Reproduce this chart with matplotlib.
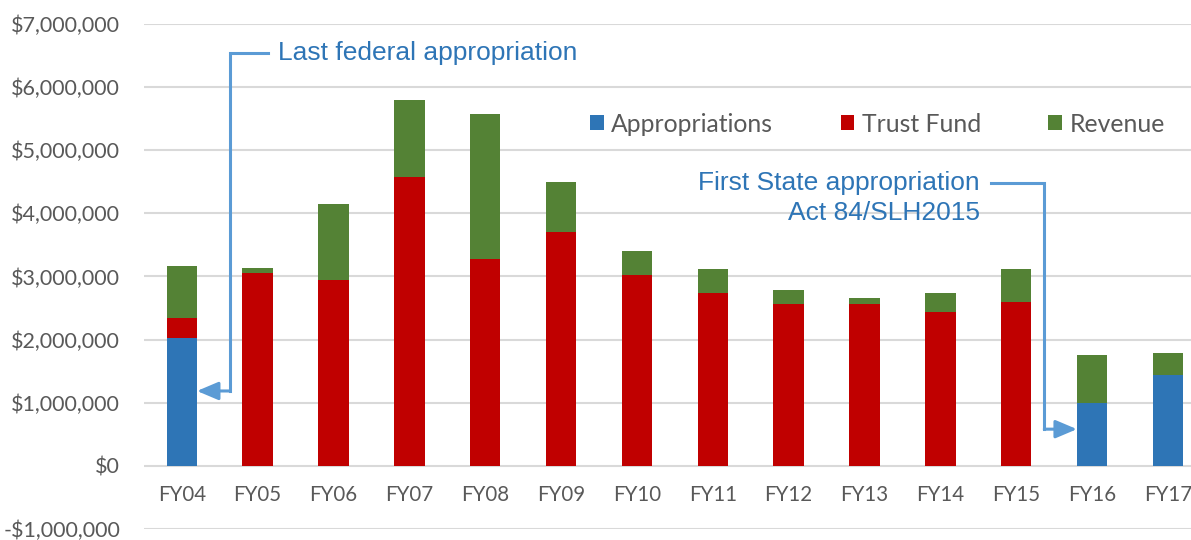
import matplotlib
matplotlib.use("Agg")
import matplotlib.pyplot as plt
from matplotlib.ticker import FuncFormatter
import numpy as np

categories = ["FY04", "FY05", "FY06", "FY07", "FY08", "FY09", "FY10",
              "FY11", "FY12", "FY13", "FY14", "FY15", "FY16", "FY17"]
appropriations = [2020000, 0, 0, 0, 0, 0, 0, 0, 0, 0, 0, 0, 1000000, 1440000]
trust_fund = [320000, 3055000, 2945000, 4570000, 3270000, 3710000, 3020000,
              2740000, 2570000, 2560000, 2440000, 2590000, 0, 0]
revenue = [830000, 85000, 1205000, 1220000, 2305000, 790000, 390000,
           370000, 210000, 100000, 300000, 525000, 750000, 350000]

C_APP = "#2E75B6"
C_TF = "#C00000"
C_REV = "#548235"
GRID = "#D9D9D9"
TXT = "#595959"
ANN = "#2E75B6"
LINE = "#5B9BD5"

fig = plt.figure(figsize=(11.91, 5.40), dpi=100)
ax = fig.add_axes([0.1208, 0.0206, 0.8917, 0.935])

x = np.arange(len(categories))
w = 0.4
app = np.array(appropriations)
tf = np.array(trust_fund)
rev = np.array(revenue)
ax.bar(x, app, w, color=C_APP, label="Appropriations", zorder=3)
ax.bar(x, tf, w, bottom=app, color=C_TF, label="Trust Fund", zorder=3)
ax.bar(x, rev, w, bottom=app + tf, color=C_REV, label="Revenue", zorder=3)

ax.set_xlim(-0.5, len(categories) - 0.5)
ax.set_ylim(-1000000, 7000000)
ax.set_yticks(np.arange(-1000000, 7000001, 1000000))
ax.yaxis.set_major_formatter(FuncFormatter(
    lambda v, p: ("-$" if v < 0 else "$") + f"{abs(int(v)):,}"))
ax.grid(axis="y", color=GRID, linewidth=1.5, zorder=0)
for s in ax.spines.values():
    s.set_visible(False)
ax.spines["bottom"].set_position(("data", 0))
ax.set_xticks(x)
ax.set_xticklabels(categories)
ax.tick_params(axis="x", length=0, pad=14, labelsize=14.8, labelcolor=TXT)
ax.tick_params(axis="y", length=0, pad=17, labelsize=15.5, labelcolor=TXT)
for lab in ax.get_xticklabels() + ax.get_yticklabels():
    lab.set_fontfamily("Lato")

leg = ax.legend(loc="center left", bbox_to_anchor=(590 / 1191, 1 - 124 / 540),
                bbox_transform=fig.transFigure, ncol=3, frameon=False,
                handlelength=0.56, handleheight=0.56, handletextpad=0.3,
                columnspacing=2.72, prop={"family": "Lato", "size": 17.8},
                borderaxespad=0, borderpad=0)
for t in leg.get_texts():
    t.set_color(TXT)

arrow_style = "-|>,head_length=1.3,head_width=0.55"

# Annotation 1: last federal appropriation (FY04)
i0 = categories.index("FY04")
y1 = 6540000
ax.text(i0 + 1.27, y1, "Last federal appropriation", color=ANN,
        fontsize=19, family="Liberation Sans", va="center", ha="left", zorder=5)
ax.plot([i0 + 1.14, i0 + 0.635, i0 + 0.635], [y1, y1, 1185000],
        color=LINE, lw=2.2, zorder=4, solid_joinstyle="miter")
ax.annotate("", xy=(i0 + w / 2, 1185000), xytext=(i0 + 0.635, 1185000),
            arrowprops=dict(arrowstyle=arrow_style,
                            color=LINE, lw=2.2, shrinkA=0, shrinkB=0), zorder=4)

# Annotation 2: first state appropriation (FY16)
i1 = categories.index("FY16")
y2 = 4480000
ax.text(i1 - 1.48, y2, "First State appropriation", color=ANN,
        fontsize=19, family="Liberation Sans", va="center", ha="right", zorder=5)
ax.text(i1 - 1.48, 4000000, "Act 84/SLH2015", color=ANN,
        fontsize=19, family="Liberation Sans", va="center", ha="right", zorder=5)
ax.plot([i1 - 1.33, i1 - 0.63, i1 - 0.63], [y2, y2, 580000],
        color=LINE, lw=2.2, zorder=4, solid_joinstyle="miter")
ax.annotate("", xy=(i1 - w / 2, 580000), xytext=(i1 - 0.63, 580000),
            arrowprops=dict(arrowstyle=arrow_style,
                            color=LINE, lw=2.2, shrinkA=0, shrinkB=0), zorder=4)

fig.savefig("out.png", dpi=100)
